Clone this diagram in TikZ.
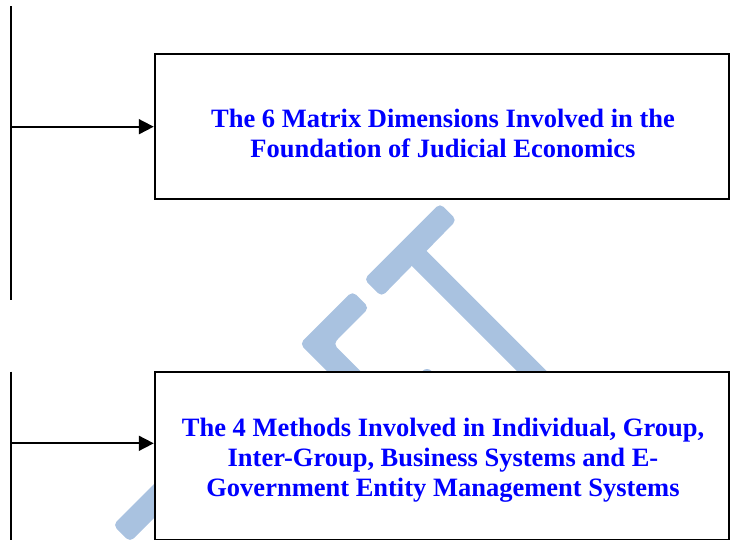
\documentclass[tikz,border=0pt]{standalone}
\usepackage{fontspec}
\setmainfont{Liberation Serif}
\usetikzlibrary{arrows.meta}
\definecolor{wmblue}{RGB}{169,194,224}

\begin{document}
\begin{tikzpicture}[x=1pt,y=-1pt,>={Triangle[length=15pt,width=15pt]},
  box/.style={draw,line width=2pt,fill=white,inner sep=0pt,minimum width=574.3pt},
  title/.style={text=blue,font=\fontsize{26.5}{30}\selectfont\bfseries,align=center},
  link/.style={line width=1.8pt}]
  \useasboundingbox (0,0) rectangle (736,539);

  % watermark in the background
  \fill[wmblue,rounded corners=5pt] (440,203.3) -- (456.7,220) -- (381.7,296.7) -- (364,279.3) -- cycle;
  \draw[wmblue,line width=21pt] (410.4,249.6) -- (560,399.2);
  \fill[wmblue,rounded corners=5pt] (352.5,291.2) -- (369.1,307.8) -- (333.2,343.8) -- (393.2,403.8)
    -- (359.8,403.8) -- (299.8,343.8) -- cycle;
  \fill[wmblue] (427,375) circle (6pt);
  \fill[wmblue,rounded corners=5pt] (113,525) -- (130,542) -- (210,462) -- (193,445) -- cycle;

  % the two boxes
  \node[box,minimum height=144.7pt] (dims) at (441.9,126.7) {};
  \node[title,anchor=base] (dimstxt) at (443,157)
    {The 6 Matrix Dimensions Involved in the\\Foundation of Judicial Economics};
  \node[box,minimum height=167.8pt] (meths) at (441.9,455.6) {};
  \node[title,anchor=base] (methstxt) at (443,496)
    {The 4 Methods Involved in Individual, Group,\\Inter-Group, Business Systems and E-\\Government Entity Management Systems};

  % left bars and arrows
  \coordinate (top1) at (11,6);
  \coordinate (top2) at (11,300);
  \coordinate (bot1) at (11,371.7);
  \coordinate (bot2) at (11,540);
  \coordinate (methsfoot) at (11,443.3);
  \draw[link] (top1) -- (top2);
  \draw[link] (bot1) -- (bot2);
  \draw[link,->] (top1 |- dims.west) -- (dims.west);
  \draw[link,->] (methsfoot) -- (methsfoot -| meths.west);
\end{tikzpicture}
\end{document}
